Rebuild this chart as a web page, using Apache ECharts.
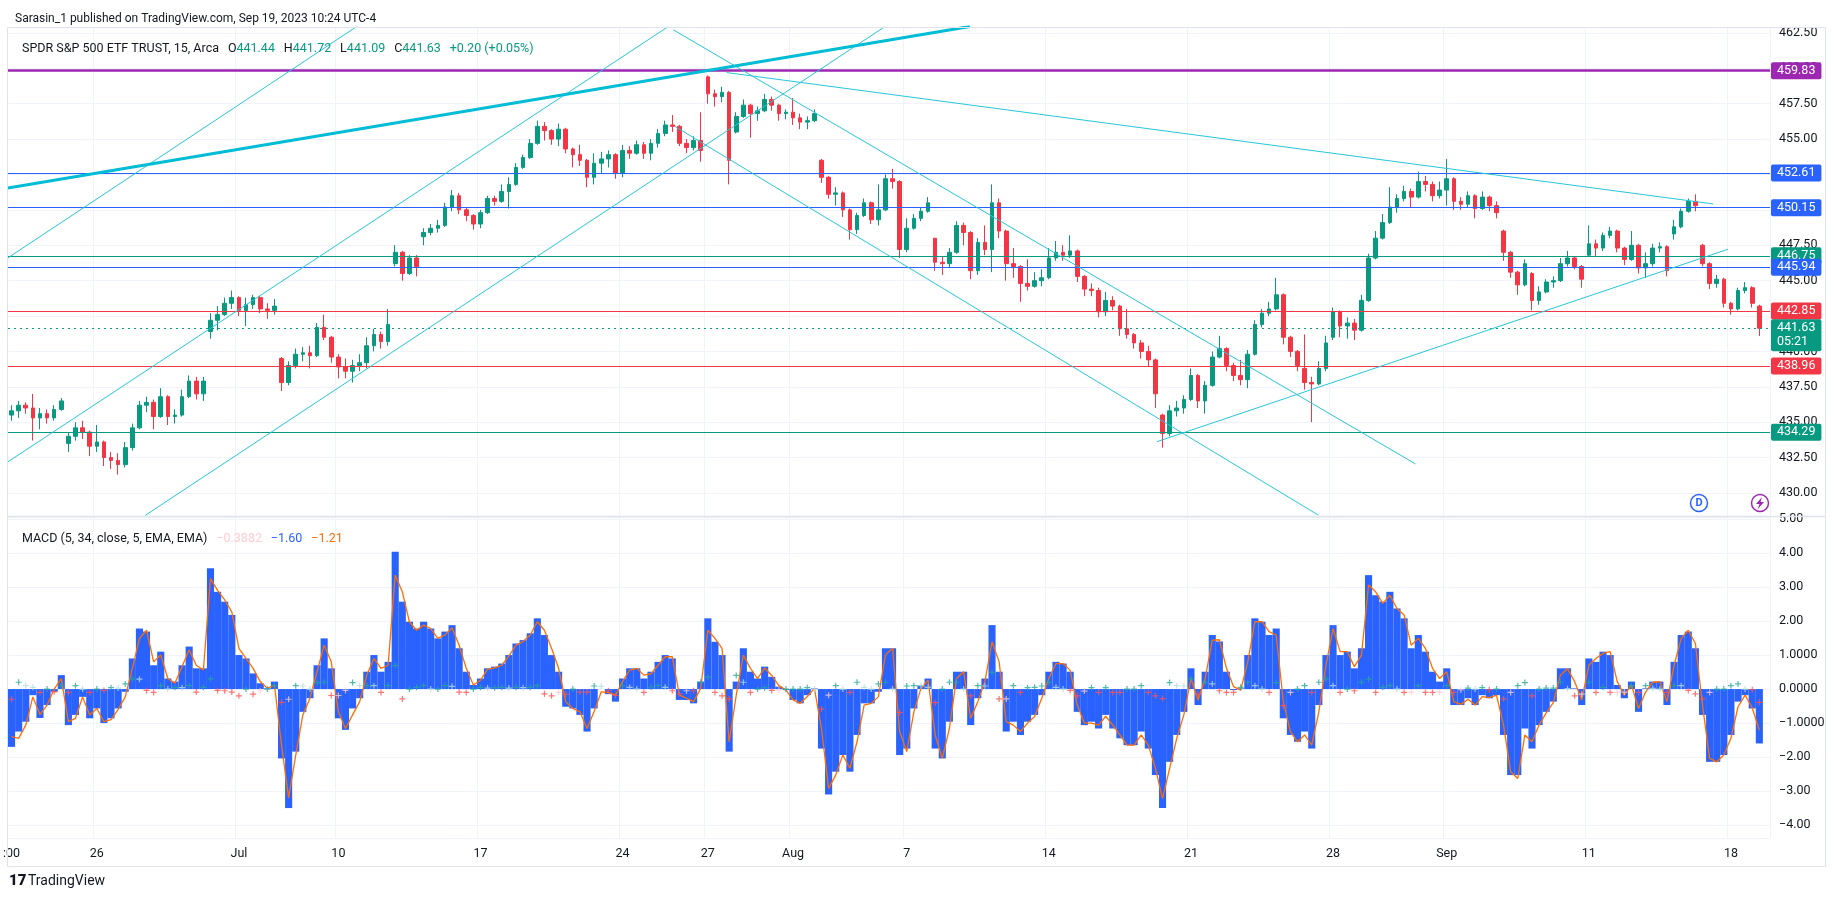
<!DOCTYPE html>
<html>
<head>
<meta charset="utf-8">
<title>SPY 15m with MACD</title>
<script src="https://cdn.jsdelivr.net/npm/echarts@6/dist/echarts.min.js"></script>
<style>
  html, body { margin: 0; padding: 0; background: #fff; }
  #chart { width: 1835px; height: 901px; }
</style>
</head>
<body>
<div id="chart"></div>
<script>
// trading days on the x axis; every day is cut into 15-min groups (4 per day,
// the short Jul 3 session gets 2, the running Sep 19 session 1 + empty space)
const days = ['Jun 21','Jun 22','Jun 23','Jun 26','Jun 27','Jun 28','Jun 29','Jun 30',
  'Jul 3','Jul 5','Jul 6','Jul 7','Jul 10','Jul 11','Jul 12','Jul 13','Jul 14',
  'Jul 17','Jul 18','Jul 19','Jul 20','Jul 21','Jul 24','Jul 25','Jul 26','Jul 27','Jul 28',
  'Jul 31','Aug 1','Aug 2','Aug 3','Aug 4','Aug 7','Aug 8','Aug 9','Aug 10','Aug 11',
  'Aug 14','Aug 15','Aug 16','Aug 17','Aug 18','Aug 21','Aug 22','Aug 23','Aug 24','Aug 25',
  'Aug 28','Aug 29','Aug 30','Aug 31','Sep 1','Sep 5','Sep 6','Sep 7','Sep 8',
  'Sep 11','Sep 12','Sep 13','Sep 14','Sep 15','Sep 18','Sep 19'];
const shortDays = { 'Jul 3': 2, 'Sep 19': 2 };

// tick labels under the chart
const dayTicks = { 'Jun 21': ':00', 'Jun 26': '26', 'Jul 3': 'Jul', 'Jul 10': '10', 'Jul 17': '17',
  'Jul 24': '24', 'Jul 27': '27', 'Aug 1': 'Aug', 'Aug 7': '7', 'Aug 14': '14', 'Aug 21': '21',
  'Aug 28': '28', 'Sep 1': 'Sep', 'Sep 11': '11', 'Sep 18': '18' };

// SPY bars: [open, close, low, high]
const priceBars = [
  [435.5,435.8,435.1,436.2],[435.8,436.2,435.3,436.5],[436.2,436.0,435.6,436.4],[436.0,435.3,433.7,437.0],
  [435.3,435.6,434.5,436.0],[435.6,435.3,434.9,435.9],[435.3,435.9,435.1,436.2],[435.9,436.5,435.8,436.7],
  [433.5,434.0,432.9,434.3],[434.0,434.6,433.7,435.0],[434.6,434.3,433.8,435.1],[434.3,433.3,432.6,434.4],
  [433.3,433.6,432.9,434.8],[433.6,432.5,431.9,433.7],[432.5,432.3,431.7,432.9],[432.3,432.0,431.3,432.8],
  [432.0,433.2,431.8,433.6],[433.2,434.6,433.0,434.9],[434.6,436.2,434.5,436.5],[436.2,436.4,435.7,436.8],
  [436.4,435.4,434.5,436.6],[435.4,436.8,435.3,437.4],[436.8,435.4,434.8,436.9],[435.4,435.5,434.9,435.9],
  [435.5,436.8,435.4,437.3],[436.8,437.9,436.7,438.3],[437.9,437.0,436.6,438.2],[437.0,437.9,436.5,438.2],
  [441.4,442.2,440.9,442.7],[442.2,442.6,441.5,443.2],[442.6,443.4,442.5,443.8],[443.4,443.8,443.0,444.3],
  [443.8,442.9,442.5,443.9],[442.9,443.3,441.8,443.8],
  [443.3,443.8,443.0,444.0],[443.8,443.0,442.7,443.9],[443.0,442.9,442.3,443.4],[442.9,443.2,442.6,443.7],
  [439.5,437.8,437.2,439.6],[437.8,439.0,437.6,439.3],[439.0,439.8,438.8,440.2],[439.8,439.9,439.3,440.3],
  [439.9,439.7,438.8,440.4],[439.7,441.7,439.6,442.0],[441.7,441.0,440.8,442.6],[441.0,439.6,439.2,441.1],
  [439.6,438.9,438.1,439.8],[438.9,438.6,438.1,439.5],[438.6,439.0,437.8,439.4],[439.0,439.2,438.6,439.8],
  [439.2,440.4,438.8,441.0],[440.4,441.2,440.0,441.6],[441.2,440.7,440.2,441.4],[440.7,441.9,440.4,443.0],
  [446.2,447.0,446.0,447.5],[447.0,445.5,445.0,447.1],[445.5,446.6,445.4,446.8],[446.6,446.0,445.3,446.8],
  [448.1,448.4,447.5,448.7],[448.4,448.7,448.2,449.0],[448.7,448.9,448.4,449.3],[448.9,450.2,448.8,450.5],
  [450.2,451.0,449.9,451.4],[451.0,450.0,449.7,451.2],[450.0,449.6,449.2,450.2],[449.6,449.0,448.6,449.7],
  [449.0,449.8,448.7,450.0],[449.8,450.8,449.7,451.0],[450.8,450.6,450.3,451.0],[450.6,451.3,450.5,451.8],
  [451.3,451.8,450.1,452.3],[451.8,453.0,451.7,453.3],[453.0,453.7,452.9,453.9],[453.7,454.7,453.6,455.0],
  [454.7,455.9,454.6,456.3],[455.9,455.6,454.9,456.2],[455.6,455.0,454.6,455.7],[455.0,455.7,454.5,456.1],
  [455.7,454.3,454.0,455.8],[454.3,453.9,453.0,454.4],[453.9,453.5,453.1,454.6],[453.5,452.3,451.6,453.6],
  [452.3,453.3,451.8,454.0],[453.3,453.6,452.6,454.1],[453.6,453.9,453.0,454.2],[453.9,452.6,452.2,454.0],
  [452.6,454.2,452.3,454.6],[454.2,454.0,453.6,454.5],[454.0,454.6,453.9,454.9],[454.6,454.0,453.6,454.8],
  [454.0,454.7,453.5,455.0],[454.7,455.4,454.4,455.7],[455.4,456.0,455.2,456.3],[456.0,455.9,455.5,456.7],
  [455.9,454.7,454.5,456.0],[454.7,454.4,454.0,455.0],[454.4,454.9,454.2,455.2],[454.9,454.2,453.4,456.9],
  [459.4,458.2,457.5,459.5],[458.2,458.0,457.3,458.5],[458.0,458.3,457.6,458.7],[458.3,453.5,451.8,458.4],
  [455.5,456.6,455.4,456.9],[456.6,457.4,456.5,457.8],[457.4,456.8,455.1,457.5],[456.8,457.0,456.3,457.3],
  [457.0,457.8,456.9,458.2],[457.8,457.4,457.0,458.0],[457.4,456.8,456.3,457.5],[456.8,456.9,456.4,457.1],
  [456.9,456.5,456.0,457.9],[456.5,456.2,455.7,456.8],[456.2,456.3,455.7,456.6],[456.3,456.8,456.2,457.1],
  [453.5,452.3,451.9,453.6],[452.3,451.1,450.8,452.4],[451.1,451.2,450.3,451.6],[451.2,450.0,449.5,451.3],
  [450.0,448.6,447.9,450.1],[448.6,449.6,448.3,449.8],[449.6,450.5,449.5,450.8],[450.5,449.3,449.0,450.6],
  [449.3,450.0,448.9,451.8],[450.0,452.2,449.9,452.5],[452.2,452.0,451.5,452.9],[452.0,447.2,446.6,452.1],
  [447.2,448.7,447.0,449.4],[448.7,449.4,448.6,449.7],[449.4,449.9,449.2,450.2],[449.9,450.5,449.8,450.9],
  [448.0,446.3,445.7,448.0],[446.3,446.2,445.4,446.7],[446.2,447.0,445.9,447.3],[447.0,448.9,446.9,449.2],
  [448.9,448.4,447.5,449.1],[448.4,445.7,445.1,448.5],[445.7,447.7,445.4,448.0],[447.7,447.2,446.8,448.9],
  [447.2,450.5,445.6,451.8],[450.5,448.5,448.0,450.8],[448.5,446.2,445.0,448.6],[446.2,446.0,445.2,447.3],
  [446.0,444.8,443.5,446.1],[444.8,444.6,444.3,446.5],[444.6,445.0,444.5,445.6],[445.0,445.2,444.6,445.8],
  [445.2,446.6,445.1,447.3],[446.6,447.0,446.4,447.8],[447.0,446.8,446.4,447.5],[446.8,447.1,446.6,448.2],
  [447.1,445.3,444.9,447.2],[445.3,444.4,443.9,445.4],[444.4,444.3,443.9,444.8],[444.3,442.8,442.4,444.5],
  [442.8,443.6,442.5,444.2],[443.6,443.2,442.9,443.9],[443.2,441.6,441.1,443.3],[441.6,441.2,440.9,443.0],
  [441.2,440.6,440.2,441.3],[440.6,440.0,439.5,440.8],[440.0,439.4,438.9,440.4],[439.4,437.0,436.0,439.5],
  [435.5,434.2,433.2,435.6],[434.2,435.8,434.0,436.2],[435.8,436.0,435.4,436.5],[436.0,436.6,435.6,436.9],
  [436.6,438.3,436.5,438.8],[438.3,436.5,436.0,438.4],[436.5,437.6,435.6,437.9],[437.6,439.6,437.5,440.0],
  [439.6,440.2,439.5,441.1],[440.2,439.0,438.6,440.3],[439.0,438.3,437.9,439.2],[438.3,438.0,437.6,439.4],
  [438.0,439.8,437.4,440.1],[439.8,441.9,439.7,442.2],[441.9,442.7,441.7,443.0],[442.7,443.0,442.5,443.5],
  [443.0,444.0,442.9,445.2],[444.0,441.0,440.5,444.1],[441.0,440.0,439.6,441.1],[440.0,439.0,438.6,440.1],
  [438.8,437.8,437.3,441.2],[437.8,437.7,435.0,438.2],[437.7,438.8,437.6,439.3],[438.8,440.6,438.6,441.1],
  [441.0,442.8,440.8,443.1],[442.8,441.8,441.0,442.9],[441.8,442.0,440.9,442.4],[442.0,441.5,440.8,442.3],
  [441.5,443.6,441.4,444.0],[443.6,446.6,443.5,446.9],[446.6,448.0,446.5,448.5],[448.0,449.1,447.9,449.7],
  [449.1,450.2,449.0,451.6],[450.2,450.8,449.8,451.1],[450.8,451.3,450.6,451.7],[451.3,450.9,450.2,451.5],
  [450.9,452.0,450.8,452.7],[452.0,451.8,451.3,452.4],[451.8,451.0,450.6,452.0],[451.0,451.4,450.8,452.0],
  [451.4,452.2,450.3,453.6],[452.2,450.6,450.0,452.3],[450.6,450.4,450.0,450.9],[450.4,451.0,450.2,451.3],
  [451.0,450.1,449.4,451.1],[450.1,450.9,450.0,451.3],[450.9,450.3,449.9,451.0],[450.3,449.8,449.4,450.6],
  [448.5,447.0,446.4,448.6],[447.0,445.6,445.2,447.1],[445.6,444.7,444.0,445.7],[444.7,446.2,444.6,446.5],
  [445.5,443.6,442.9,445.6],[443.6,444.2,443.3,444.6],[444.2,444.9,444.1,445.1],[444.9,445.0,444.5,445.3],
  [445.0,446.2,444.9,446.6],[446.2,446.6,446.0,447.1],[446.6,446.0,445.8,446.7],[446.0,445.1,444.5,446.1],
  [446.8,447.6,446.7,448.9],[447.6,447.3,446.7,447.9],[447.3,448.2,447.1,448.4],[448.2,448.5,448.0,448.8],
  [448.5,447.3,447.0,448.6],[447.3,446.5,446.1,447.4],[446.5,447.5,446.4,448.5],[447.5,445.9,445.5,447.6],
  [445.9,446.2,445.2,447.0],[446.2,447.3,446.0,447.6],[447.3,447.4,447.0,447.7],[447.4,445.7,445.3,447.5],
  [448.3,448.8,447.9,449.3],[448.8,449.9,448.7,450.1],[449.9,450.6,449.8,450.8],[450.6,450.3,449.9,451.1],
  [447.5,446.2,446.0,447.6],[446.2,444.8,444.4,446.3],[444.8,445.1,444.5,445.4],[445.1,443.4,443.1,445.2],
  [443.4,443.0,442.6,443.5],[443.0,444.3,442.9,444.5],[444.3,444.5,444.1,444.9],[444.5,443.4,443.1,444.6],
  [443.2,441.63,441.09,443.3]
];

// MACD (5, 34) line, drawn as blue columns
const macdLine = [
  -1.7,-1.25,-0.96,-0.18, -0.85,-0.47,-0.08,0.41, -1.06,-0.76,-0.23,-0.86, -0.57,-1.0,-0.86,-0.57,
  -0.08,0.9,1.78,1.69, 0.7,1.1,0.31,0.22, 0.7,1.25,0.61,0.61, 3.55,2.86,2.57,2.18, 1.0,0.9,
  0.46,0.17,0.02,0.22, -2.04,-3.5,-1.84,-0.67, -0.27,0.7,1.49,0.61, -0.86,-1.2,-0.57,-0.27,
  0.51,1.0,0.51,0.8, 4.04,2.57,1.98,1.78, 1.98,1.78,1.49,1.69, 1.88,1.2,0.51,0.12,
  0.31,0.61,0.66,0.75, 1.0,1.34,1.44,1.64, 2.08,1.59,1.0,0.51, -0.52,-0.57,-0.76,-1.25,
  -0.57,0.0,-0.15,-0.37, 0.31,0.61,0.61,0.31, 0.51,0.8,1.0,0.9, -0.32,-0.32,-0.42,0.22,
  2.08,1.39,1.0,-1.84, 0.22,1.2,0.51,0.31, 0.66,0.36,0.07,-0.03, -0.32,-0.42,-0.18,0.02,
  -1.75,-3.1,-2.43,-1.94, -2.43,-1.35,-0.42,-0.42, -0.08,1.2,1.2,-1.94, -1.75,-0.57,0.12,0.31,
  -1.75,-2.04,-0.96,0.51, 0.51,-1.06,-0.27,0.31, 1.88,0.51,-1.25,-0.96, -1.35,-0.96,-0.76,-0.18,
  0.51,0.8,0.75,0.51, -0.67,-1.06,-0.96,-1.16, -0.76,-1.16,-1.45,-1.65, -1.65,-1.25,-1.75,-2.53,
  -3.5,-2.14,-1.35,-0.67, 0.61,-0.47,0.51,1.59, 1.4,0.51,-0.03,0.02, 1.0,2.08,1.98,1.59,
  1.78,-0.86,-1.35,-1.55, -1.25,-1.75,-0.47,1.0, 1.88,1.0,1.1,0.61, 1.2,3.35,2.76,2.57,
  2.86,2.37,2.08,1.2, 1.59,1.1,0.51,0.22, 0.61,-0.47,-0.47,-0.27, -0.47,-0.18,-0.27,-0.18,
  -1.35,-2.53,-2.53,-1.16, -1.75,-1.06,-0.67,-0.37, 0.61,0.61,0.02,-0.47, 0.9,0.8,1.1,1.0,
  0.12,-0.27,0.22,-0.67, 0.02,0.22,0.22,-0.47, 0.8,1.59,1.69,1.2, -0.76,-2.14,-2.14,-1.94,
  -1.35,-0.37,-0.18,-0.57, -1.6
];

// signal EMA(5) of the MACD line
const signalLine = [
  -1.4,-1.45,-1.06,-0.23, -0.75,-0.47,0.0,0.31, -0.96,-0.86,-0.23,-0.76, -0.57,-0.96,-0.9,-0.6,
  -0.23,0.6,1.49,1.73, 0.8,1.0,0.31,0.17, 0.66,1.15,0.7,0.56, 3.25,2.9,2.62,2.27, 1.2,0.9,
  0.61,0.22,0.02,0.12, -1.65,-3.2,-1.94,-0.76, -0.27,0.51,1.29,0.8, -0.67,-1.16,-0.76,-0.37,
  0.41,0.9,0.61,0.7, 3.35,2.86,1.98,1.73, 1.88,1.78,1.49,1.59, 1.8,1.29,0.61,0.12,
  0.26,0.58,0.62,0.7, 0.97,1.29,1.4,1.59, 1.98,1.73,1.2,0.61, -0.37,-0.57,-0.67,-1.16,
  -0.66,-0.08,-0.1,-0.18, 0.22,0.56,0.61,0.41, 0.45,0.7,0.95,0.95, -0.18,-0.27,-0.37,0.02,
  1.73,1.49,1.2,-1.55, -0.18,1.0,0.61,0.31, 0.62,0.4,0.1,-0.03, -0.32,-0.42,-0.22,0.02,
  -1.16,-2.92,-2.53,-1.94, -2.33,-1.55,-0.47,-0.42, -0.23,1.0,1.2,-1.25, -1.84,-0.67,0.02,0.26,
  -1.35,-2.04,-1.16,0.31, 0.51,-0.86,-0.37,0.22, 1.39,0.8,-0.96,-1.06, -1.25,-1.0,-0.81,-0.27,
  0.31,0.75,0.75,0.55, -0.47,-1.0,-1.0,-1.06, -0.8,-1.06,-1.35,-1.65, -1.65,-1.35,-1.65,-2.33,
  -3.22,-2.33,-1.45,-0.76, 0.31,-0.32,0.31,1.44, 1.45,0.61,0.07,-0.03, 0.8,1.98,1.98,1.69,
  1.59,-0.37,-1.25,-1.55, -1.35,-1.65,-0.67,0.7, 1.78,1.1,1.1,0.66, 1.0,3.06,2.86,2.52,
  2.76,2.37,2.18,1.29, 1.49,1.2,0.61,0.31, 0.51,-0.37,-0.45,-0.3, -0.47,-0.22,-0.25,-0.18,
  -1.06,-2.43,-2.63,-1.35, -1.55,-1.06,-0.7,-0.4, 0.41,0.6,0.22,-0.32, 0.7,0.9,1.05,1.1,
  0.22,-0.18,0.12,-0.57, -0.08,0.2,0.22,-0.37, 0.7,1.49,1.73,1.34, -0.47,-2.04,-2.14,-1.94,
  -1.45,-0.52,-0.18,-0.55, -1.21
];

// horizontal levels drawn on the chart
const levels = [459.83, 452.61, 450.15, 446.75, 445.94, 442.85, 438.96, 434.29];
const lastPrice = 441.63;

// trend lines: [slot from, price from, slot to, price to]
const trendLines = [
  [-0.5, 446.61, 48.58, 462.95],
  [-0.5, 432.20, 92.43, 462.95],
  [18.78, 428.40, 122.93, 462.95],
  [-0.5, 451.54, 134.9, 462.95],
  [93.14, 462.72, 197.6, 432.05],
  [93.38, 455.89, 183.9, 428.44],
  [100.65, 459.70, 239.5, 450.42],
  [161.2, 433.62, 241.6, 447.22]
];

const FONT = 'Roboto, "Noto Sans", sans-serif';
const TXT = '#131722';
const GRIDC = '#f0f3fa';
const UP = '#089981', DOWN = '#f23645', BLUE = '#2962ff', PURPLE = '#9c27b0';
const levelColors = [PURPLE, BLUE, BLUE, UP, BLUE, DOWN, DOWN, UP];

const categories = [];
days.forEach(d => {
  const n = shortDays[d] || 4;
  for (let k = 0; k < n; k++) categories.push(d + '|' + k);
});
function tickText(v) {
  const p = v.split('|');
  return p[1] === '0' && dayTicks[p[0]] ? dayTicks[p[0]] : '';
}

// histogram = MACD - signal, shown as crosses
const crosses = macdLine.map((m, i) => {
  const h = +(m - signalLine[i]).toFixed(3);
  const prev = i > 0 ? macdLine[i - 1] - signalLine[i - 1] : h;
  let c;
  if (h >= 0) c = h >= prev ? '#26a69a' : '#b2dfdb';
  else c = h <= prev ? '#ff5252' : '#ffcdd2';
  return { value: [i, h], itemStyle: { color: c } };
});

const levelLabel = {
  show: true, position: 'end', distance: 1, color: '#fff', fontSize: 12.5,
  fontFamily: FONT, padding: [2, 6, 2, 6], borderRadius: 2,
  formatter: p => p.value.toFixed(2)
};
const levelMarks = levels.map((v, i) => ({
  yAxis: v,
  lineStyle: { color: levelColors[i], width: i === 0 ? 2.5 : 1.2, type: 'solid' },
  label: { backgroundColor: levelColors[i] }
}));
levelMarks.push({
  yAxis: lastPrice,
  lineStyle: { color: UP, width: 1, type: [2, 4] },
  label: { backgroundColor: UP, formatter: lastPrice.toFixed(2) + '\n05:21', lineHeight: 14, offset: [0, 7] }
});

const plain = { fontSize: 12.5, fontFamily: FONT, fontWeight: 'normal' };

const chart = echarts.init(document.getElementById('chart'));
chart.setOption({
  animation: false,
  backgroundColor: '#ffffff',
  textStyle: { fontFamily: FONT },
  title: [
    { text: 'Sarasin_1 published on TradingView.com, Sep 19, 2023 10:24 UTC-4', left: 10, top: 8,
      textStyle: { fontSize: 12, fontWeight: 'normal', color: TXT, fontFamily: FONT } },
    { text: '{t|SPDR S&P 500 ETF TRUST, 15, Arca}  {t|O}{v|441.44}  {t|H}{v|441.72}  {t|L}{v|441.09}  {t|C}{v|441.63}  {v|+0.20 (+0.05%)}',
      left: 17, top: 35,
      textStyle: { fontWeight: 'normal', rich: {
        t: Object.assign({ color: TXT }, plain),
        v: Object.assign({ color: UP }, plain) } } },
    { text: '{t|MACD (5, 34, close, 5, EMA, EMA)}  {h|\u22120.3882}  {m|\u22121.60}  {s|\u22121.21}',
      left: 17, top: 525,
      textStyle: { fontWeight: 'normal', rich: {
        t: Object.assign({ color: TXT }, plain),
        h: Object.assign({ color: '#ffcdd2' }, plain),
        m: Object.assign({ color: BLUE }, plain),
        s: Object.assign({ color: '#ff6d00' }, plain) } } }
  ],
  grid: [
    { left: 8, right: 65, top: 27, height: 489, outerBoundsMode: 'none' },
    { left: 8, right: 65, top: 517, height: 321, outerBoundsMode: 'none' }
  ],
  xAxis: [
    { type: 'category', gridIndex: 0, data: categories, boundaryGap: true,
      axisLine: { show: false }, axisTick: { show: false }, axisLabel: { show: false },
      splitLine: { show: true, interval: (i, v) => i > 0 && tickText(v) !== '', lineStyle: { color: GRIDC } } },
    { type: 'category', gridIndex: 1, data: categories, boundaryGap: true,
      axisLine: { show: false }, axisTick: { show: false },
      axisLabel: { show: true, interval: (i, v) => tickText(v) !== '', formatter: v => tickText(v),
        color: TXT, fontSize: 12.5, fontFamily: FONT, margin: 9 },
      splitLine: { show: true, interval: (i, v) => i > 0 && tickText(v) !== '', lineStyle: { color: GRIDC } } },
    { type: 'value', gridIndex: 0, min: -0.5, max: categories.length - 0.5, show: false }
  ],
  yAxis: [
    { type: 'value', gridIndex: 0, position: 'right', min: 428.37, max: 462.92,
      minInterval: 2.5, maxInterval: 2.5, splitNumber: 14,
      axisLine: { show: false }, axisTick: { show: false },
      axisLabel: { color: TXT, fontSize: 12.5, fontFamily: FONT, margin: 9, showMinLabel: false, showMaxLabel: false,
        formatter: v => Math.abs(v / 2.5 - Math.round(v / 2.5)) > 1e-6 ? '' : v.toFixed(2) },
      splitLine: { lineStyle: { color: GRIDC } } },
    { type: 'value', gridIndex: 1, position: 'right', min: -4.38, max: 5.06,
      minInterval: 1, maxInterval: 1, splitNumber: 9,
      axisLine: { show: false }, axisTick: { show: false },
      axisLabel: { color: TXT, fontSize: 12.5, fontFamily: FONT, margin: 9, showMinLabel: false, showMaxLabel: false,
        formatter: v => {
          if (Math.abs(v - Math.round(v)) > 1e-6) return '';
          const a = Math.abs(v);
          const s = (a === 0 || a === 1) ? a.toFixed(4) : a.toFixed(2);
          return (v < 0 ? '\u2212' : '') + s;
        } },
      splitLine: { lineStyle: { color: GRIDC } } }
  ],
  series: [
    { type: 'candlestick', name: 'SPY', xAxisIndex: 0, yAxisIndex: 0, data: priceBars, barWidth: '58%',
      itemStyle: { color: UP, color0: DOWN, borderColor: UP, borderColor0: DOWN, borderWidth: 1 }, z: 3 },
    { type: 'line', name: 'levels', xAxisIndex: 0, yAxisIndex: 0, data: [], clip: false, silent: true, z: 6,
      markLine: { symbol: ['none', 'none'], silent: true, animation: false, label: levelLabel, data: levelMarks } },
    ...trendLines.map((t, i) => ({
      type: 'line', xAxisIndex: 2, yAxisIndex: 0, data: [[t[0], t[1]], [t[2], t[3]]],
      symbol: 'none', silent: true, clip: true, z: 5,
      lineStyle: { color: i === 3 ? '#00bcd4' : '#26c6da', width: i === 3 ? 3 : 1 }
    })),
    { type: 'bar', name: 'MACD', xAxisIndex: 1, yAxisIndex: 1, data: macdLine, barWidth: '100%',
      itemStyle: { color: BLUE }, z: 2 },
    { type: 'line', name: 'Signal', xAxisIndex: 1, yAxisIndex: 1, data: signalLine, symbol: 'none',
      lineStyle: { color: '#ff6d00', width: 1.3 }, z: 4 },
    { type: 'scatter', name: 'Histogram', xAxisIndex: 1, yAxisIndex: 1, data: crosses,
      symbol: 'path://M2 0h1v2h2v1H3v2H2V3H0V2h2z', symbolSize: 6, z: 5 }
  ],
  graphic: [
    { type: 'rect', silent: true, shape: { x: 7.5, y: 27.5, width: 1818, height: 839 },
      style: { fill: 'none', stroke: '#e0e3eb', lineWidth: 1 }, z: 10 },
    { type: 'line', silent: true, shape: { x1: 7.5, y1: 516.5, x2: 1825.5, y2: 516.5 },
      style: { stroke: '#e0e3eb', lineWidth: 1.5 }, z: 10 },
    { type: 'circle', silent: true, shape: { cx: 1699, cy: 503, r: 8.5 },
      style: { fill: '#fff', stroke: BLUE, lineWidth: 1.5 }, z: 10 },
    { type: 'text', silent: true, x: 1699, y: 503, z: 11,
      style: { text: 'D', fill: BLUE, font: 'bold 11px ' + FONT, align: 'center', verticalAlign: 'middle' } },
    { type: 'circle', silent: true, shape: { cx: 1760, cy: 503, r: 8.5 },
      style: { fill: '#fff', stroke: PURPLE, lineWidth: 1.5 }, z: 10 },
    { type: 'polygon', silent: true, z: 11,
      shape: { points: [[1762, 497], [1756, 504], [1759.5, 504], [1757.5, 509.5], [1764, 502], [1760.5, 502]] },
      style: { fill: PURPLE } },
    { type: 'text', silent: true, x: 9, y: 874, z: 11,
      style: { text: '17', fill: TXT, font: '900 15px ' + FONT } },
    { type: 'text', silent: true, x: 28, y: 874, z: 11,
      style: { text: 'TradingView', fill: TXT, font: '14px ' + FONT } }
  ]
});
</script>
</body>
</html>
